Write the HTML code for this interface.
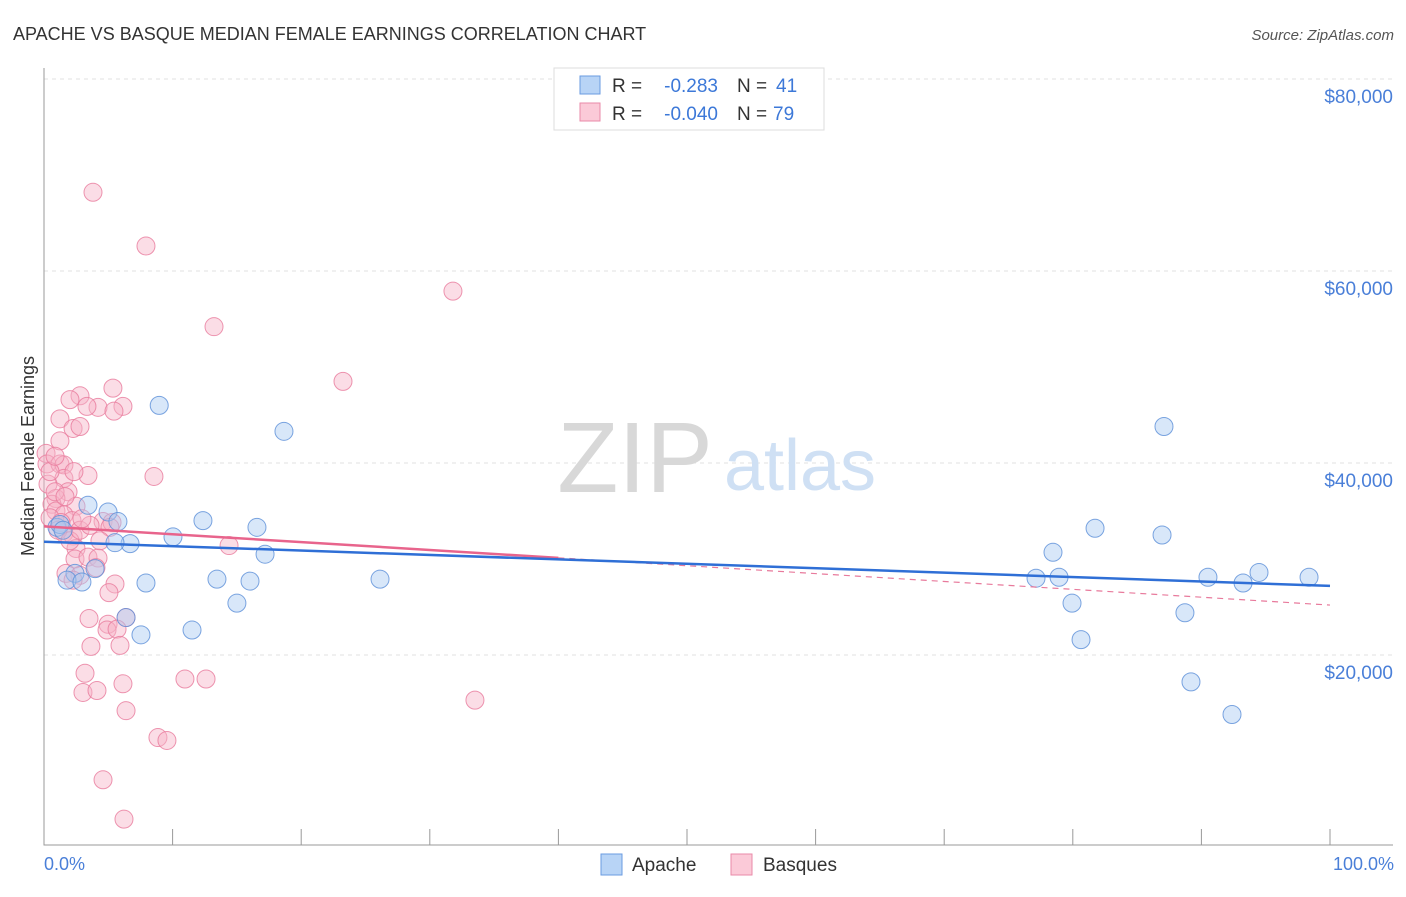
<!DOCTYPE html>
<html><head><meta charset="utf-8"><style>
body{margin:0;background:#fff;font-family:"Liberation Sans",sans-serif}
svg text{font-family:"Liberation Sans",sans-serif}
</style></head><body>
<svg id="c" width="1406" height="892">
<text x="13" y="40" font-size="18" fill="#333">APACHE VS BASQUE MEDIAN FEMALE EARNINGS CORRELATION CHART</text>
<text x="1394" y="40" font-size="15" fill="#555" font-style="italic" text-anchor="end">Source: ZipAtlas.com</text>
<g id="grid"></g>
<text x="635" y="492" font-size="100" fill="#d8d8d8" font-family="Liberation Serif" text-anchor="middle">ZIP</text>
<text x="800" y="490" font-size="72" fill="#cfe0f4" text-anchor="middle">atlas</text>
<g id="pts"></g>
<g id="trend"></g>
<text transform="translate(34,456) rotate(-90)" font-size="18" fill="#333" text-anchor="middle">Median Female Earnings</text>
<text x="44" y="870" font-size="18" fill="#4a7fd8">0.0%</text>
<text x="1394" y="870" font-size="18" fill="#4a7fd8" text-anchor="end">100.0%</text>
<g>
<rect x="554" y="68" width="270" height="62" fill="#fff" stroke="#ddd"/>
<rect x="580" y="76" width="20" height="18" fill="#b8d4f6" stroke="#6a9be0"/>
<rect x="580" y="103" width="20" height="18" fill="#fbcad8" stroke="#ea8aa8"/>
<text x="612" y="92" font-size="19" fill="#333">R =</text>
<text x="718" y="92" font-size="19" fill="#3c78d8" text-anchor="end">-0.283</text>
<text x="737" y="92" font-size="19" fill="#333">N =</text>
<text x="776" y="92" font-size="19" fill="#3c78d8">41</text>
<text x="612" y="120" font-size="19" fill="#333">R =</text>
<text x="718" y="120" font-size="19" fill="#3c78d8" text-anchor="end">-0.040</text>
<text x="737" y="120" font-size="19" fill="#333">N =</text>
<text x="773" y="120" font-size="19" fill="#3c78d8">79</text>
</g>
<g>
<rect x="601" y="854" width="21" height="21" fill="#b8d4f6" stroke="#6a9be0"/>
<text x="632" y="871" font-size="19" fill="#333">Apache</text>
<rect x="731" y="854" width="21" height="21" fill="#fbcad8" stroke="#ea8aa8"/>
<text x="763" y="871" font-size="19" fill="#333">Basques</text>
</g>
</svg>
<script>
const yTicks=[20000,40000,60000,80000];
const yTickLabels=["$20,000","$40,000","$60,000","$80,000"];
const apacheX=[8.96,18.66,87.09,3.42,4.98,5.75,1.01,12.36,16.56,10.03,81.73,86.94,6.69,5.52,17.19,78.46,2.41,1.79,2.95,7.93,13.45,16.02,26.13,77.14,78.93,90.51,94.48,93.24,98.37,15,79.94,88.72,6.38,11.51,7.54,80.64,89.19,92.38,1.24,3.97,1.48];
const apacheY=[46.0,43.3,43.8,35.6,34.9,33.9,33.3,34.0,33.3,32.3,33.2,32.5,31.6,31.7,30.5,30.7,28.5,27.8,27.6,27.5,27.9,27.7,27.9,28.0,28.1,28.1,28.6,27.5,28.1,25.4,25.4,24.4,23.9,22.6,22.1,21.6,17.2,13.8,33.6,29.0,33.0];
const basqX=[3.81,7.93,13.22,31.8,23.25,2.8,5.36,2.02,4.2,6.14,3.34,1.24,5.44,2.26,2.8,0.16,0.23,1.24,1.55,1.55,3.42,8.55,0.31,1.87,0.93,0.62,2.49,0.93,1.55,0.47,4.59,2.18,5.29,1.55,2.26,1.32,1.09,14.39,5.13,2.49,2.41,3.42,4.2,4.04,1.71,2.8,2.26,5.52,5.05,3.5,6.38,4.98,4.9,5.68,3.65,5.91,3.19,3.03,4.12,6.14,10.96,12.6,33.51,6.38,8.86,9.56,4.59,6.22,0.47,0.86,1.24,2.02,2.8,4.35,3.58,0.86,1.63,2.95,2.33];
const basqY=[68.2,62.6,54.2,57.9,48.5,47.0,47.8,46.6,45.8,45.9,45.9,44.6,45.4,43.6,43.8,41.0,39.9,39.9,39.8,38.4,38.7,38.6,37.8,37.0,36.3,35.7,35.5,35.0,34.6,34.3,33.9,34.0,33.8,32.7,32.4,33.8,33.0,31.4,33.3,31.1,30.0,30.2,30.1,29.1,28.5,28.3,27.8,27.4,26.5,23.8,23.9,23.2,22.6,22.7,20.9,21.0,18.1,16.1,16.3,17.0,17.5,17.5,15.3,14.2,11.4,11.1,7.0,2.9,39.1,37.0,42.3,31.9,33.0,31.9,33.5,40.7,36.5,34.2,39.1];
const apacheTrend=[31.8,27.2];
const basqTrend=[33.4,25.2];
const X=p=>44+p*12.86, Y=v=>847-v*192/20;
const NS="http://www.w3.org/2000/svg";
const g=document.getElementById('grid');
yTicks.forEach((t,i)=>{
 const l=document.createElementNS(NS,'line');
 l.setAttribute('x1',44);l.setAttribute('x2',1393);l.setAttribute('y1',Y(t/1000));l.setAttribute('y2',Y(t/1000));
 l.setAttribute('stroke','#e2e2e2');l.setAttribute('stroke-dasharray','4,4');
 
 
 g.appendChild(l);
 const tx=document.createElementNS(NS,'text');
 tx.setAttribute('x',1393);tx.setAttribute('y',Y(t/1000)+24);tx.setAttribute('text-anchor','end');
 tx.setAttribute('font-size','19');tx.setAttribute('fill','#4a7fd8');tx.textContent=yTickLabels[i];
 
 
 g.appendChild(tx);
});
const ax=document.createElementNS(NS,'path');
ax.setAttribute('d','M44,68V845H1393');ax.setAttribute('stroke','#999');ax.setAttribute('fill','none');


g.appendChild(ax);
for(let i=1;i<=10;i++){const t=document.createElementNS(NS,'line');
 t.setAttribute('x1',X(i*10));t.setAttribute('x2',X(i*10));t.setAttribute('y1',829);t.setAttribute('y2',845);t.setAttribute('stroke','#999');
 
 
 g.appendChild(t);}
const pg=document.getElementById('pts');
function dots(xs,ys,fill,stroke,name){xs.forEach((x,i)=>{const c=document.createElementNS(NS,'circle');
 c.setAttribute('cx',X(x));c.setAttribute('cy',Y(ys[i]));c.setAttribute('r',9);
 c.setAttribute('fill',fill);c.setAttribute('fill-opacity','0.45');c.setAttribute('stroke',stroke);c.setAttribute('stroke-opacity','0.8');
 
 
 pg.appendChild(c);});}
dots(basqX,basqY,'#f6b4c8','#e87a9c','basques-point');
dots(apacheX,apacheY,'#a9c9f2','#5b8fd8','apache-point');
const tg=document.getElementById('trend');
function line(x1,y1,x2,y2,col,w,dash,name){const l=document.createElementNS(NS,'line');
 l.setAttribute('x1',X(x1));l.setAttribute('y1',Y(y1));l.setAttribute('x2',X(x2));l.setAttribute('y2',Y(y2));
 l.setAttribute('stroke',col);l.setAttribute('stroke-width',w);if(dash)l.setAttribute('stroke-dasharray',dash);
 
 
 tg.appendChild(l);}
const bm=basqTrend[0]+(basqTrend[1]-basqTrend[0])*0.4;
line(40,bm,100,basqTrend[1],'#e87a9c',1.2,'6,5','basques-trend-dashed');
line(0,basqTrend[0],40,bm,'#e8648c',2.5,null,'basques-trend');
line(0,apacheTrend[0],100,apacheTrend[1],'#2f6fd6',2.5,null,'apache-trend');
</script>
</body></html>
